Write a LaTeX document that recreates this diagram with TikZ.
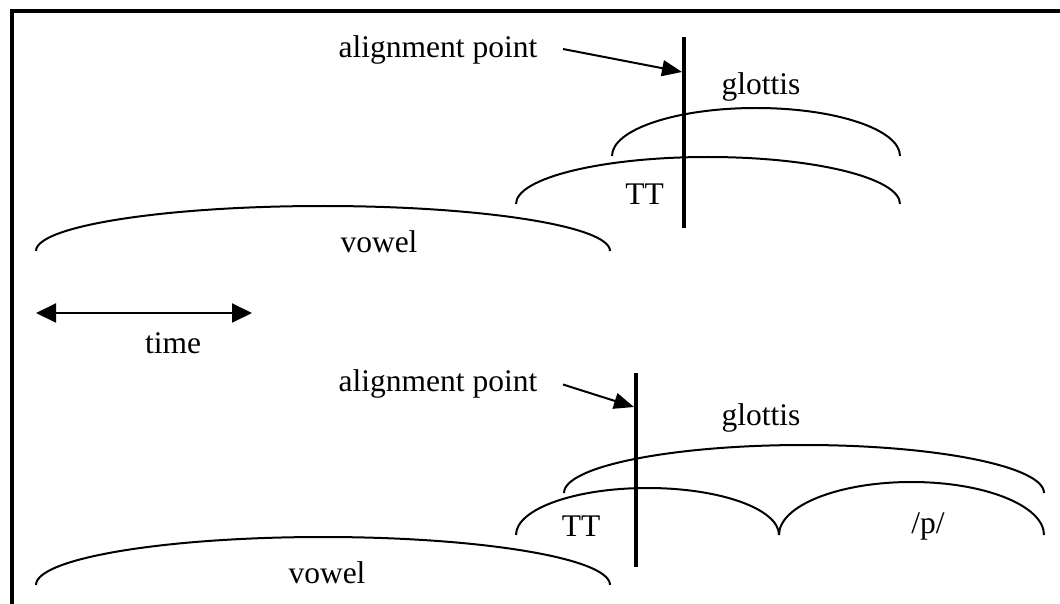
\documentclass[tikz,border=0pt]{standalone}
\usepackage{fontspec}
\setmainfont{Liberation Serif}
\usetikzlibrary{arrows.meta}
\begin{document}
\begin{tikzpicture}[x=1pt,y=-1pt,
  lbl/.style={font=\fontsize{31.5}{36}\selectfont, inner sep=0pt, anchor=base},
  span/.style={line width=2pt},
  alignline/.style={line width=4pt},
  pointer/.style={line width=2pt, -{Triangle[length=20pt,width=16pt]}},
  timearrow/.style={line width=2pt, {Triangle[length=20pt,width=19pt]}-{Triangle[length=20pt,width=19pt]}},
]
\useasboundingbox (0,0) rectangle (1060,604);
% frame (only its top and left edges fall inside the page)
\draw[line width=4pt] (1060,11.5) -- (12,11.5) -- (12,604);

% ---------- upper panel ----------
\coordinate (ua1) at (684,37);
\coordinate (ua2) at (684,228);
\draw[alignline] (ua1) -- (ua2);
\node[lbl] (ualign) at (438,58) {alignment point};
\coordinate (uptr) at (563,49);
\coordinate (utip) at (682,72);
\draw[pointer] (uptr) -- (utip);

\node[lbl] (uglot) at (761,95) {glottis};
\coordinate (ugl) at (612,156);
\draw[span] (ugl) arc[start angle=180,end angle=0,x radius=144pt,y radius=48pt];

\node[lbl] (utt) at (644.5,205) {TT};
\coordinate (utl) at (516,204);
\draw[span] (utl) arc[start angle=180,end angle=0,x radius=192pt,y radius=47pt];

\node[lbl] (uvow) at (379,252) {vowel};
\coordinate (uvl) at (36,251);
\draw[span] (uvl) arc[start angle=180,end angle=0,x radius=287pt,y radius=45pt];

% ---------- time scale ----------
\coordinate (t1) at (36,313);
\coordinate (t2) at (252,313);
\draw[timearrow] (t1) -- (t2);
\node[lbl] (time) at (173,353) {time};

% ---------- lower panel ----------
\coordinate (la1) at (636,373);
\coordinate (la2) at (636,567);
\draw[alignline] (la1) -- (la2);
\node[lbl] (lalign) at (438,391) {alignment point};
\coordinate (lptr) at (563,384.5);
\coordinate (ltip) at (634,407);
\draw[pointer] (lptr) -- (ltip);

\node[lbl] (lglot) at (761,425) {glottis};
\coordinate (lgl) at (564,493);
\draw[span] (lgl) arc[start angle=180,end angle=0,x radius=240pt,y radius=48pt];

\node[lbl] (ltt) at (581,536) {TT};
\coordinate (ltl) at (516,535);
\draw[span] (ltl) arc[start angle=180,end angle=0,x radius=131.5pt,y radius=47pt];

\node[lbl] (lp) at (928,533) {/p/};
\coordinate (lpl) at (779,535);
\draw[span] (lpl) arc[start angle=180,end angle=0,x radius=132.5pt,y radius=53pt];

\node[lbl] (lvow) at (327,583) {vowel};
\coordinate (lvl) at (36,585);
\draw[span] (lvl) arc[start angle=180,end angle=0,x radius=287pt,y radius=48pt];
\end{tikzpicture}
\end{document}
